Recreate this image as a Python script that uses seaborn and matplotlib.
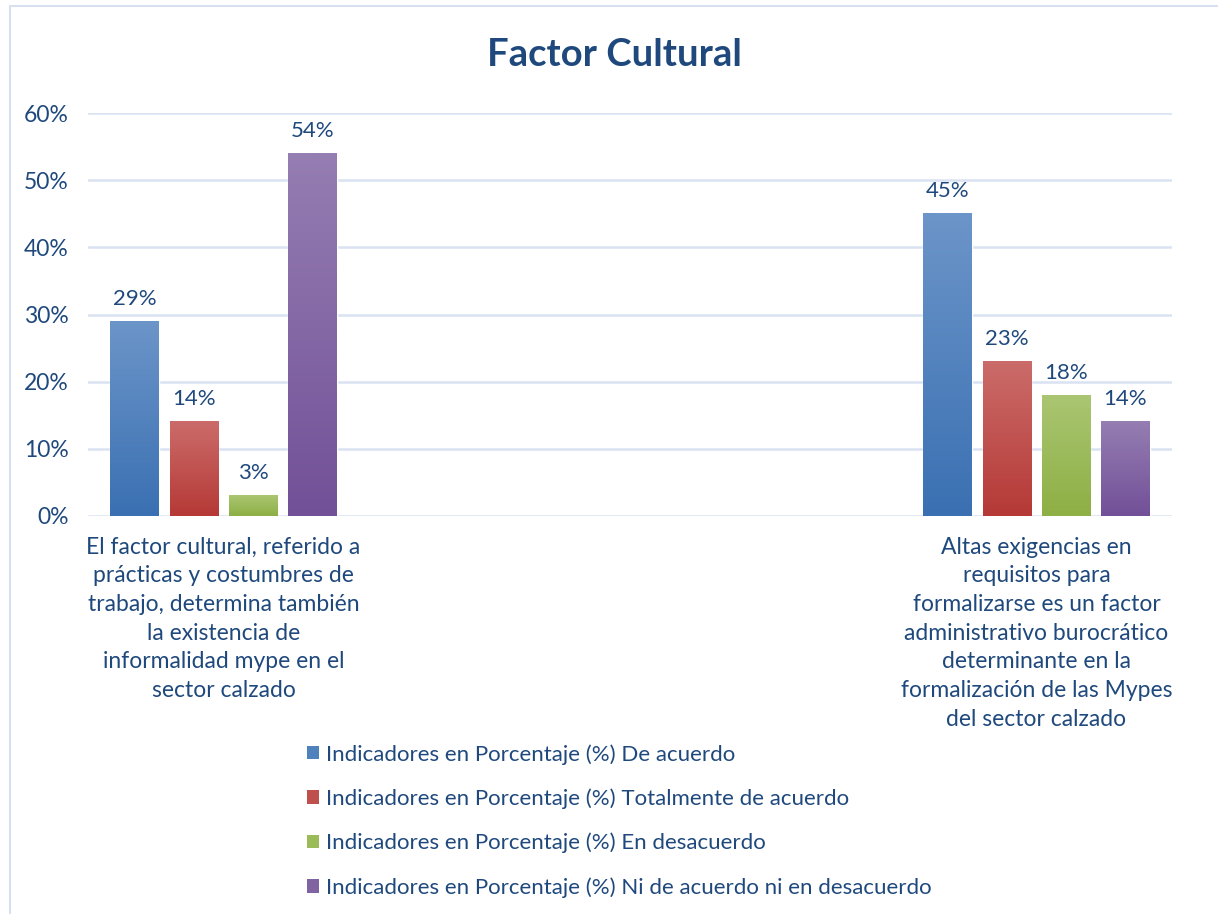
import numpy as np
import pandas as pd
import seaborn as sns
import matplotlib.pyplot as plt
from matplotlib.colors import LinearSegmentedColormap
from matplotlib.patches import Rectangle, Patch

# Data
categorias = [
    "El factor cultural, referido a\nprácticas y costumbres de\ntrabajo, determina también\nla existencia de\ninformalidad mype en el\nsector calzado",
    "Altas exigencias en\nrequisitos para\nformalizarse es un factor\nadministrativo burocrático\ndeterminante en la\nformalización de las Mypes\ndel sector calzado",
]
series = [
    "Indicadores en Porcentaje (%) De acuerdo",
    "Indicadores en Porcentaje (%) Totalmente de acuerdo",
    "Indicadores en Porcentaje (%) En desacuerdo",
    "Indicadores en Porcentaje (%) Ni de acuerdo ni en desacuerdo",
]
de_acuerdo = [29, 45]
totalmente_de_acuerdo = [14, 23]
en_desacuerdo = [3, 18]
ni_de_acuerdo_ni_en_desacuerdo = [54, 14]
y_ticks = [0, 10, 20, 30, 40, 50, 60]

# Colors (flat for legend, light/dark for bar gradients)
flat = ["#4F81BD", "#C0504D", "#9BBB59", "#8064A2"]
tops = ["#6C95C9", "#CB6C6A", "#AAC672", "#957EB2"]
bottoms = ["#3A70B2", "#B53936", "#8DAF44", "#725098"]
text_color = "#1F497D"

valores = [de_acuerdo, totalmente_de_acuerdo, en_desacuerdo, ni_de_acuerdo_ni_en_desacuerdo]
rows = []
for s, vals in zip(series, valores):
    for c, v in zip(categorias, vals):
        rows.append({"categoria": c, "serie": s, "valor": v})
df = pd.DataFrame(rows)

sns.set_style("white")
plt.rcParams["font.family"] = ["Lato", "DejaVu Sans"]

fig = plt.figure(figsize=(12.18, 9.14), dpi=100)
ax = fig.add_axes([88 / 1218, 1 - 516 / 914, (1172 - 88) / 1218, (516 - 113) / 914])

sns.barplot(data=df, x="categoria", y="valor", hue="serie", order=categorias,
            hue_order=series, palette=flat, saturation=1, width=0.436, gap=0.174,
            legend=False, ax=ax, zorder=3)

# Shift the groups: first group to the left, second to the right
shift = 0.25
for i, cont in enumerate(ax.containers):
    cmap = LinearSegmentedColormap.from_list("g", [bottoms[i], tops[i]])
    for rect in cont:
        cx = rect.get_x() + rect.get_width() / 2
        d = -shift if round(cx) == 0 else shift
        rect.set_x(rect.get_x() + d)
        x0, w, h = rect.get_x(), rect.get_width(), rect.get_height()
        grad = np.linspace(0, 1, 256).reshape(-1, 1)
        ax.imshow(grad, extent=[x0, x0 + w, 0, h], origin="lower", aspect="auto",
                  cmap=cmap, zorder=4)
        ax.annotate(f"{h:.0f}%", (x0 + w / 2, h), xytext=(0, 9), textcoords="offset points",
                    ha="center", va="bottom", fontsize=16, color=text_color)

ax.set_xlim(-0.5, 1.5)
ax.set_ylim(0, 60)
ax.set_yticks(y_ticks)
ax.set_yticklabels([f"{t}%" for t in y_ticks])
ax.set_xticks([0 - shift, 1 + shift])
ax.set_xticklabels(categorias, linespacing=1.45)
ax.tick_params(axis="x", length=0, pad=15, labelsize=16.5, labelcolor=text_color)
ax.tick_params(axis="y", length=0, pad=14, labelsize=16.5, labelcolor=text_color)
ax.set_xlabel("")
ax.set_ylabel("")
for sp in ax.spines.values():
    sp.set_visible(False)
ax.yaxis.grid(True, color="#D9E3F1", linewidth=1.8)
ax.set_axisbelow(True)

fig.text(614 / 1218, 1 - 55 / 914, "Factor Cultural", ha="center", va="center",
         fontsize=27.5, fontweight="bold", color=text_color)

handles = [Patch(facecolor=c, edgecolor="none") for c in flat]
fig.legend(handles, series, loc="upper left", bbox_to_anchor=(307 / 1218, 1 - 744 / 914),
           frameon=False, fontsize=16, labelspacing=1.07, handlelength=0.55,
           handleheight=0.55, handletextpad=0.3, borderpad=0, borderaxespad=0,
           labelcolor=text_color)

fig.add_artist(Rectangle((10 / 1218, -0.1), 1.2, 1 - 6 / 914 + 0.1, transform=fig.transFigure,
                         fill=False, edgecolor="#D6E0EE", linewidth=1.5))

fig.savefig("out.png", dpi=100)
